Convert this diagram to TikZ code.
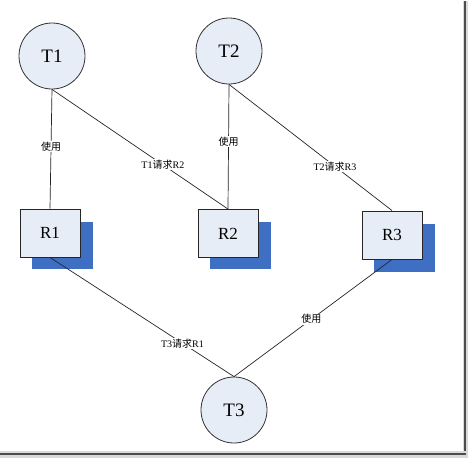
\documentclass[tikz,border=0pt]{standalone}
\usepackage{fontspec}
\setmainfont{Liberation Serif}
\newfontfamily\cjk{Noto Sans CJK SC}
\begin{document}
\begin{tikzpicture}[x=1pt,y=-1pt,
  tnode/.style={circle,draw=black!80,line width=0.8pt,fill=nodefill,minimum size=66pt,inner sep=0pt,font=\fontsize{19}{19}\selectfont},
  rnode/.style={rectangle,draw=black!85,line width=0.9pt,fill=nodefill,minimum width=60pt,minimum height=48pt,inner sep=0pt,font=\fontsize{17}{17}\selectfont},
  shadowbox/.style={fill=shadowblue,draw=none},
  conn/.style={draw=black!85,line width=0.7pt},
  lbl/.style={fill=white,inner sep=1pt,font=\fontsize{10}{10}\selectfont}]
\definecolor{nodefill}{HTML}{E6EDF7}
\definecolor{shadowblue}{HTML}{3F6FC2}
\useasboundingbox (0,0) rectangle (468,459);
\fill[white] (0,0) rectangle (468,459);
% frame
\fill[black!15] (463,1) rectangle (468,456);
\fill[black!70] (463.5,1) rectangle (465.5,455);
\fill[black!15] (0,451) rectangle (468,458);
\fill[black!70] (0,453) rectangle (465.5,455);
% shadows
\fill[shadowbox] (32,222) rectangle (93,269);
\fill[shadowbox] (210,222) rectangle (271,269);
\fill[shadowbox] (374,224) rectangle (435,272);
% nodes
\node[tnode] (T1) at (52,56) {T1};
\node[tnode] (T2) at (229,51) {T2};
\node[tnode] (T3) at (234,410) {T3};
\node[rnode] (R1) at (50,233) {R1};
\node[rnode] (R2) at (228,233.5) {R2};
\node[rnode] (R3) at (392,235) {R3};
% connectors
\draw[conn] (T1.south) -- node[lbl,pos=0.48] {\cjk 使用} (R1.north);
\draw[conn] (T1.south) -- node[lbl,pos=0.63] {T1{\cjk 请求}R2} (R2.north);
\draw[conn] (T2.south) -- node[lbl,pos=0.46] {\cjk 使用} (R2.north);
\draw[conn] (T2.south) -- node[lbl,pos=0.65] {T2{\cjk 请求}R3} (R3.north);
\draw[conn] (R1.south) -- node[lbl,pos=0.72] {T3{\cjk 请求}R1} (T3.north);
\draw[conn] (R3.south) -- node[lbl,pos=0.51] {\cjk 使用} (T3.north);
\end{tikzpicture}
\end{document}
